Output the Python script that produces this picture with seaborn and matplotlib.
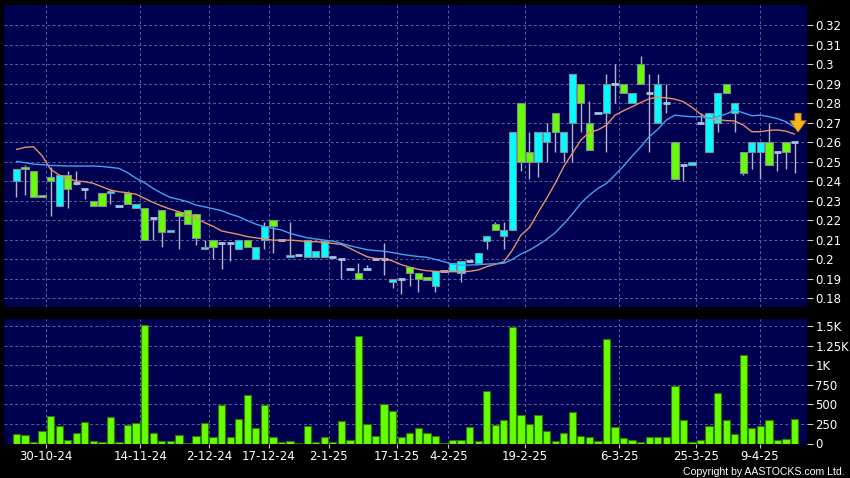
import numpy as np
import pandas as pd
import seaborn as sns
import matplotlib.pyplot as plt

# daily OHLC (one entry per trading session shown on the chart)
opens = [0.240, 0.247, 0.245, 0.233, 0.242, 0.227, 0.243, 0.239, 0.236, 0.230,
         0.234, 0.234, 0.227, 0.234, 0.226, 0.226, 0.221, 0.225, 0.214, 0.224,
         0.225, 0.223, 0.205, 0.210, 0.208, 0.208, 0.205, 0.210, 0.200, 0.210,
         0.220, 0.210, 0.201, 0.202, 0.201, 0.201, 0.201, 0.201, 0.200, 0.195,
         0.193, 0.195, 0.200, 0.200, 0.188, 0.190, 0.196, 0.193, 0.191, 0.186,
         0.194, 0.194, 0.193, 0.199, 0.198, 0.209, 0.218, 0.212, 0.215, 0.280,
         0.255, 0.250, 0.260, 0.275, 0.255, 0.270, 0.290, 0.270, 0.275, 0.275,
         0.290, 0.290, 0.280, 0.300, 0.285, 0.270, 0.280, 0.260, 0.248, 0.248,
         0.270, 0.255, 0.270, 0.290, 0.275, 0.255, 0.255, 0.255, 0.260, 0.255,
         0.260, 0.260]
highs = [0.246, 0.248, 0.245, 0.233, 0.247, 0.243, 0.245, 0.245, 0.236, 0.230,
         0.234, 0.236, 0.227, 0.235, 0.228, 0.226, 0.221, 0.225, 0.215, 0.224,
         0.225, 0.223, 0.210, 0.210, 0.208, 0.208, 0.210, 0.210, 0.206, 0.219,
         0.220, 0.210, 0.219, 0.202, 0.210, 0.204, 0.209, 0.201, 0.200, 0.195,
         0.198, 0.197, 0.200, 0.208, 0.190, 0.190, 0.196, 0.193, 0.191, 0.194,
         0.194, 0.198, 0.199, 0.199, 0.203, 0.212, 0.219, 0.219, 0.265, 0.280,
         0.265, 0.265, 0.270, 0.275, 0.265, 0.295, 0.290, 0.281, 0.275, 0.295,
         0.300, 0.290, 0.285, 0.304, 0.295, 0.295, 0.290, 0.260, 0.248, 0.250,
         0.275, 0.275, 0.285, 0.290, 0.280, 0.255, 0.260, 0.260, 0.270, 0.255,
         0.260, 0.260]
lows = [0.232, 0.233, 0.232, 0.232, 0.222, 0.227, 0.226, 0.238, 0.231, 0.227,
        0.227, 0.228, 0.227, 0.228, 0.226, 0.210, 0.210, 0.206, 0.214, 0.205,
        0.218, 0.207, 0.205, 0.200, 0.195, 0.199, 0.205, 0.206, 0.200, 0.205,
        0.203, 0.210, 0.201, 0.202, 0.201, 0.201, 0.201, 0.201, 0.190, 0.195,
        0.190, 0.195, 0.200, 0.192, 0.185, 0.182, 0.186, 0.183, 0.189, 0.183,
        0.194, 0.194, 0.188, 0.199, 0.198, 0.205, 0.215, 0.205, 0.215, 0.245,
        0.241, 0.242, 0.250, 0.255, 0.250, 0.250, 0.265, 0.256, 0.275, 0.255,
        0.280, 0.285, 0.280, 0.290, 0.255, 0.270, 0.275, 0.241, 0.240, 0.248,
        0.270, 0.255, 0.265, 0.285, 0.265, 0.243, 0.246, 0.241, 0.248, 0.245,
        0.246, 0.244]
closes = [0.246, 0.246, 0.232, 0.232, 0.240, 0.243, 0.236, 0.239, 0.236, 0.227,
          0.227, 0.235, 0.227, 0.228, 0.228, 0.210, 0.221, 0.214, 0.215, 0.222,
          0.218, 0.211, 0.206, 0.206, 0.208, 0.208, 0.210, 0.206, 0.206, 0.217,
          0.217, 0.210, 0.202, 0.202, 0.210, 0.204, 0.209, 0.201, 0.200, 0.195,
          0.190, 0.195, 0.200, 0.200, 0.190, 0.190, 0.193, 0.190, 0.189, 0.194,
          0.194, 0.198, 0.199, 0.199, 0.203, 0.212, 0.215, 0.215, 0.265, 0.250,
          0.250, 0.265, 0.265, 0.265, 0.265, 0.295, 0.280, 0.256, 0.275, 0.290,
          0.290, 0.285, 0.285, 0.290, 0.285, 0.290, 0.280, 0.241, 0.248, 0.250,
          0.270, 0.275, 0.285, 0.285, 0.280, 0.244, 0.260, 0.260, 0.248, 0.255,
          0.255, 0.260]
volume = [120, 107, 17, 159, 351, 223, 47, 129, 279, 30,
          17, 343, 17, 240, 261, 1521, 137, 34, 26, 107,
          5, 90, 257, 86, 497, 86, 309, 626, 197, 493,
          77, 21, 30, 8, 223, 21, 81, 17, 287, 51,
          1380, 244, 99, 501, 416, 86, 133, 193, 129, 99,
          3, 43, 43, 210, 30, 669, 240, 300, 1496, 364,
          249, 360, 154, 30, 133, 407, 94, 77, 26, 1341,
          206, 73, 43, 13, 81, 77, 77, 737, 304, 17,
          47, 223, 647, 300, 120, 1127, 197, 223, 300, 43,
          64, 313]
ma10 = [0.2562, 0.2573, 0.2576, 0.2530, 0.2460, 0.2431, 0.2414, 0.2400, 0.2397, 0.2388,
        0.2371, 0.2354, 0.2345, 0.2340, 0.2332, 0.2311, 0.2290, 0.2272, 0.2256, 0.2243,
        0.2226, 0.2209, 0.2187, 0.2168, 0.2144, 0.2135, 0.2126, 0.2115, 0.2109, 0.2103,
        0.2097, 0.2097, 0.2097, 0.2094, 0.2089, 0.2089, 0.2085, 0.2080, 0.2075, 0.2055,
        0.2033, 0.2012, 0.2003, 0.2002, 0.1990, 0.1971, 0.1958, 0.1947, 0.1940, 0.1937,
        0.1935, 0.1935, 0.1935, 0.1937, 0.1944, 0.1961, 0.1973, 0.1986, 0.2046, 0.2123,
        0.2162, 0.2238, 0.2311, 0.2388, 0.2474, 0.2542, 0.2610, 0.2650, 0.2662, 0.2687,
        0.2738, 0.2761, 0.2781, 0.2803, 0.2822, 0.2830, 0.2827, 0.2820, 0.2807, 0.2778,
        0.2744, 0.2721, 0.2715, 0.2710, 0.2708, 0.2687, 0.2653, 0.2653, 0.2660, 0.2662,
        0.2656, 0.2641]
ma20 = [0.2501, 0.2494, 0.2487, 0.2484, 0.2480, 0.2479, 0.2477, 0.2477, 0.2477, 0.2477,
        0.2475, 0.2470, 0.2465, 0.2443, 0.2414, 0.2391, 0.2362, 0.2337, 0.2316, 0.2306,
        0.2294, 0.2277, 0.2268, 0.2258, 0.2248, 0.2231, 0.2217, 0.2197, 0.2179, 0.2166,
        0.2157, 0.2149, 0.2132, 0.2120, 0.2109, 0.2103, 0.2097, 0.2092, 0.2080, 0.2068,
        0.2058, 0.2048, 0.2043, 0.2040, 0.2033, 0.2025, 0.2018, 0.2013, 0.2009, 0.1998,
        0.1986, 0.1974, 0.1969, 0.1969, 0.1971, 0.1974, 0.1976, 0.1978, 0.1998, 0.2026,
        0.2046, 0.2072, 0.2101, 0.2135, 0.2180, 0.2230, 0.2286, 0.2328, 0.2362, 0.2388,
        0.2431, 0.2477, 0.2528, 0.2575, 0.2628, 0.2665, 0.2713, 0.2738, 0.2733, 0.2730,
        0.2730, 0.2721, 0.2730, 0.2744, 0.2764, 0.2750, 0.2735, 0.2738, 0.2730, 0.2720,
        0.2704, 0.2675]
date_labels = ['30-10-24', '14-11-24', '2-12-24', '17-12-24', '2-1-25', '17-1-25',
               '4-2-25', '19-2-25', '6-3-25', '25-3-25', '9-4-25']
date_pos = [3.5, 14.5, 22.5, 29.5, 36.5, 44.5, 50.5, 59.5, 70.5, 79.5, 86.9]
price_ticks = [0.18, 0.19, 0.20, 0.21, 0.22, 0.23, 0.24, 0.25, 0.26, 0.27, 0.28, 0.29, 0.30, 0.31, 0.32]
vol_ticks = [0, 250, 500, 750, 1000, 1250, 1500]
vol_tick_labels = ['0', '250', '500', '750', '1K', '1.25K', '1.5K']

df = pd.DataFrame({'day': np.arange(len(closes)), 'open': opens, 'high': highs,
                   'low': lows, 'close': closes, 'volume': volume,
                   'ma10': ma10, 'ma20': ma20})

NAVY = '#000050'
GRID = '#5f5f9a'
UP = '#00ffff'
DOWN = '#66ff00'

sns.set_style('dark')
plt.rcParams['font.family'] = ['DejaVu Sans']

fig = plt.figure(figsize=(8.5, 4.78), dpi=100, facecolor='black')
ax = fig.add_axes([4 / 850, 1 - 307 / 478, 803 / 850, 302 / 478])
axv = fig.add_axes([4 / 850, 1 - 443.5 / 478, 803 / 850, 124.5 / 478])

for a in (ax, axv):
    a.set_facecolor(NAVY)
    for s in a.spines.values():
        s.set_visible(False)

# grid
for p in price_ticks:
    ax.axhline(p, color=GRID, lw=0.7, ls=(0, (3, 2.5)), zorder=0)
for v in vol_ticks[1:]:
    axv.axhline(v, color=GRID, lw=0.7, ls=(0, (3, 2.5)), zorder=0)
for d in date_pos:
    ax.axvline(d, color=GRID, lw=0.7, ls=(0, (3, 2.5)), zorder=0)
    axv.axvline(d, color=GRID, lw=0.7, ls=(0, (3, 2.5)), zorder=0)

# wicks
ax.vlines(df['day'], df['low'], df['high'], color='#b4b4c8', lw=1, zorder=2)

# bodies
flat = df[df['open'] == df['close']]
body = df[df['open'] != df['close']]
colors = [UP if c > o else DOWN for o, c in zip(body['open'], body['close'])]
ax.bar(body['day'], (body['close'] - body['open']).abs(),
       bottom=body[['open', 'close']].min(axis=1), width=0.85,
       color=colors, edgecolor='#7f8c99', linewidth=0.8, zorder=3)
ax.hlines(flat['close'], flat['day'] - 0.42, flat['day'] + 0.42,
          color='#a8c4e4', lw=2, zorder=3)

# moving averages
sns.lineplot(data=df, x='day', y='ma10', color='#e8906a', lw=1, ax=ax, zorder=4)
sns.lineplot(data=df, x='day', y='ma20', color='#3fa4f0', lw=1, ax=ax, zorder=4)

ax.annotate('', xy=(91.4, 0.2637), xytext=(91.4, 0.2762),
            arrowprops=dict(arrowstyle='simple,head_width=1.3,head_length=0.9,tail_width=0.5',
                            facecolor='#f5b81c', edgecolor='#c08000', lw=0.6, mutation_scale=9),
            zorder=6)

# volume
sns.barplot(data=df, x='day', y='volume', native_scale=True, width=0.85,
            color=DOWN, edgecolor='#2d7a00', linewidth=0.8, saturation=1,
            errorbar=None, ax=axv, zorder=3)

ax.set_xlim(-1.45, 92.45)
axv.set_xlim(-1.45, 92.45)
ax.set_ylim(0.1754, 0.3303)
axv.set_ylim(0, 1594)

ax.yaxis.tick_right()
ax.set_yticks(price_ticks)
ax.set_yticklabels(['{:g}'.format(p) for p in price_ticks])
ax.set_xticks([])
axv.yaxis.tick_right()
axv.set_yticks(vol_ticks)
axv.set_yticklabels(vol_tick_labels)
axv.set_xticks(date_pos)
axv.set_xticklabels(date_labels)

for a in (ax, axv):
    a.set_xlabel('')
    a.set_ylabel('')
    a.tick_params(axis='y', which='both', right=True, left=False, length=4, width=0.8,
                  color='#c8c8c8', labelcolor='white', labelsize=8.5, pad=2)
axv.tick_params(axis='x', bottom=True, length=3, width=0.8, color='#c8c8c8',
                labelcolor='white', labelsize=8.5, pad=2)

fig.text(0.994, 0.003, 'Copyright by AASTOCKS.com Ltd.', ha='right', va='bottom',
         color='white', fontsize=7.6, family='Liberation Sans')

plt.savefig('out.png', dpi=100, facecolor='black')
